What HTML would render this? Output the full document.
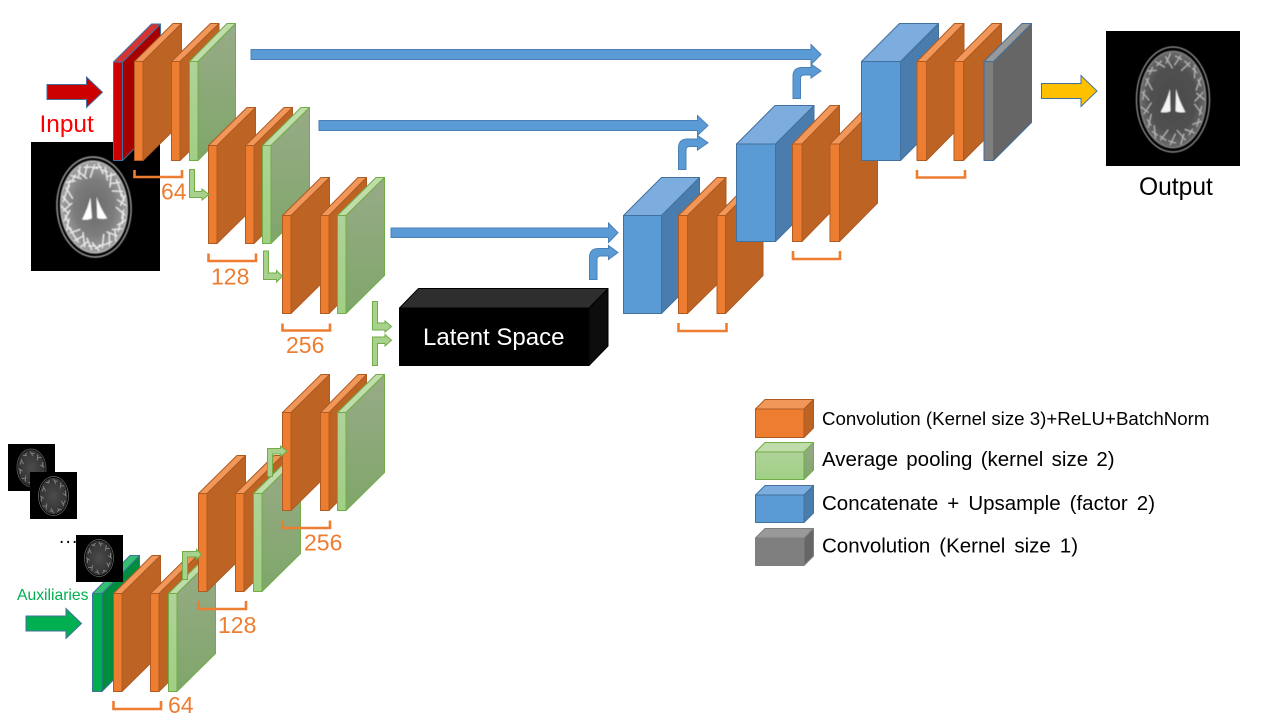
<!DOCTYPE html>
<html lang="en">
<head>
<meta charset="utf-8">
<title>U-Net architecture diagram</title>
<style>
html,body{margin:0;padding:0;background:#fff;width:1280px;height:720px;overflow:hidden}
svg{display:block}
text{font-family:"Liberation Sans",sans-serif}
.num{font-size:23px;fill:#ed7d31}
.leg{font-size:20.5px;fill:#000}
</style>
</head>
<body>
<svg id="diagram" width="1280" height="720" viewBox="0 0 1280 720" xmlns="http://www.w3.org/2000/svg">
<defs>
<linearGradient id="gside" x1="0" y1="0" x2="0" y2="1"><stop offset="0" stop-color="#98ab87"/><stop offset="1" stop-color="#7fa66a"/></linearGradient>
<linearGradient id="gfront" x1="0" y1="0" x2="0" y2="1"><stop offset="0" stop-color="#afd298"/><stop offset="1" stop-color="#a0d084"/></linearGradient>
<radialGradient id="inFill"><stop offset="0" stop-color="#6a6a6a"/><stop offset="0.6" stop-color="#7c7c7c"/><stop offset="1" stop-color="#a2a2a2"/></radialGradient>
<radialGradient id="outFill"><stop offset="0" stop-color="#4c4c4c"/><stop offset="0.7" stop-color="#505050"/><stop offset="1" stop-color="#6a6a6a"/></radialGradient>
<radialGradient id="smFill"><stop offset="0" stop-color="#4c4c4c"/><stop offset="1" stop-color="#333333"/></radialGradient>
<filter id="soft" x="-10%" y="-10%" width="120%" height="120%"><feGaussianBlur stdDeviation="0.5"/></filter>
<filter id="softer" x="-10%" y="-10%" width="120%" height="120%"><feGaussianBlur stdDeviation="0.35"/></filter>
</defs>
<rect x="0" y="0" width="1280" height="720" fill="#ffffff"/>
<g id="shapes"></g>

<text x="39.5" y="132" font-size="24.4" fill="#ff0000">Input</text>
<text x="1139" y="195" font-size="24.6" fill="#000">Output</text>
<text x="17" y="600" font-size="15.7" fill="#00b050">Auxiliaries</text>
<text x="59" y="543" font-size="19" letter-spacing="1.2" fill="#000">...</text>
<text x="423" y="345" font-size="24" fill="#ffffff">Latent Space</text>

<text class="num" x="161" y="199.5">64</text>
<text class="num" x="211" y="284.5">128</text>
<text class="num" x="286" y="353">256</text>
<text class="num" x="304" y="550.5">256</text>
<text class="num" x="218" y="633">128</text>
<text class="num" x="168" y="713">64</text>

<text class="leg" style="font-size:18.7px" x="822" y="425">Convolution (Kernel size 3)+ReLU+BatchNorm</text>
<text class="leg" x="822" y="466" word-spacing="2.6">Average pooling (kernel size 2)</text>
<text class="leg" x="822" y="510" word-spacing="3.35">Concatenate + Upsample (factor 2)</text>
<text class="leg" x="822" y="552.5" word-spacing="3.3">Convolution (Kernel size 1)</text>
</svg>
<script>
var NS = 'http://www.w3.org/2000/svg';
var root = document.getElementById('shapes');

var ORANGE = {f:'#ed7d31', s:'#bd6324', t:'#f1975a', k:'#ae5a21'};
var GREEN  = {f:'url(#gfront)', s:'url(#gside)', t:'#c0dcab', k:'#70ad47'};
var BLUE   = {f:'#5b9bd5', s:'#4a7dae', t:'#7cadde', k:'#41719c'};
var RED    = {f:'#cc0000', s:'#a60000', t:'#d63333', k:'#41719c'};
var DGREEN = {f:'#00b050', s:'#008d40', t:'#33c073', k:'#41719c'};
var GRAY   = {f:'#7f7f7f', s:'#666666', t:'#999999', k:'#41719c'};
var LGRAY  = {f:'#7f7f7f', s:'#666666', t:'#999999', k:'#7f7f7f'};
var BLACK  = {f:'#000000', s:'#0d0d0d', t:'#2e2e2e', k:'#000000'};
var ARROW_BLUE = '#4a80b5';

function add(parent, tag, attrs) {
  var n = document.createElementNS(NS, tag);
  for (var k in attrs) n.setAttribute(k, attrs[k]);
  parent.appendChild(n);
  return n;
}
function newGroup(name) {
  var g = document.createElementNS(NS, 'g');
  
  
  root.appendChild(g);
  return g;
}
function cube(name, p, x0, x1, y0, y1, right, top) {
  var g = newGroup(name);
  var dx = right - x1, dy = y0 - top, st = {stroke:p.k, 'stroke-width':1, 'stroke-linejoin':'round'};
  function poly(pts, fill) {
    var a = {points:pts, fill:fill};
    for (var k in st) a[k] = st[k];
    add(g, 'polygon', a);
  }
  poly(x1+','+y0+' '+right+','+top+' '+right+','+(y1-dy)+' '+x1+','+y1, p.s);
  poly(x0+','+y0+' '+(x0+dx)+','+top+' '+right+','+top+' '+x1+','+y0, p.t);
  poly(x0+','+y0+' '+x1+','+y0+' '+x1+','+y1+' '+x0+','+y1, p.f);
}
function brain(name, x, y, w, h, cx, cy, rx, ry, tilt, style) {
  var g = newGroup(name);
  add(g, 'rect', {x:x, y:y, width:w, height:h, fill:'#000'});
  var b = add(g, 'g', {transform:'rotate('+tilt+' '+cx+' '+cy+')', filter:'url(#'+(style.small?'softer':'soft')+')'});
  add(b, 'ellipse', {cx:cx, cy:cy, rx:rx, ry:ry, fill:'none', stroke:style.ring, 'stroke-width':style.ringW});
  add(b, 'ellipse', {cx:cx, cy:cy, rx:rx*0.9, ry:ry*0.92, fill:style.fill, stroke:style.ring2, 'stroke-width':style.ringW});
  var n = style.n;
  var inners = [0.66, 0.78, 0.6, 0.72, 0.8];
  var outers = [0.86, 0.8, 0.84, 0.88, 0.83];
  for (var i = 0; i < n; i++) {
    var a = i / n * Math.PI * 2, c = Math.cos(a), s = Math.sin(a);
    var inner = inners[i % 5];
    var outer = outers[i % 5];
    var wob = (i % 2 ? 0.22 : -0.18);
    add(b, 'line', {
      x1:cx + c*rx*outer, y1:cy + s*ry*outer,
      x2:cx + Math.cos(a+wob)*rx*inner, y2:cy + Math.sin(a+wob)*ry*inner,
      stroke:style.sulcus, 'stroke-width':style.sulcusW, 'stroke-linecap':'round'
    });
  }
  if (style.vent) {
    var gap = rx*0.07, out = rx*0.34, tp = cy - ry*0.2, bt = cy + ry*0.24;
    add(b, 'path', {d:'M'+(cx-gap*1.2)+' '+tp+' Q'+(cx-out*0.45)+' '+(cy)+' '+(cx-out)+' '+bt+' Q'+(cx-out*0.5)+' '+(bt+1)+' '+(cx-gap)+' '+(bt-1)+' Z', fill:style.vent});
    add(b, 'path', {d:'M'+(cx+gap*1.2)+' '+tp+' Q'+(cx+out*0.45)+' '+(cy)+' '+(cx+out)+' '+bt+' Q'+(cx+out*0.5)+' '+(bt+1)+' '+(cx+gap)+' '+(bt-1)+' Z', fill:style.vent});
  }
}
function straightArrow(name, x0, sT, sB, hx, tip, hT, hB, fill, stroke) {
  var g = newGroup(name);
  var cy = (hT + hB) / 2;
  add(g, 'polygon', {points:x0+','+sT+' '+hx+','+sT+' '+hx+','+hT+' '+tip+','+cy+' '+hx+','+hB+' '+hx+','+sB+' '+x0+','+sB, fill:fill, stroke:stroke, 'stroke-width':1});
}
function bentUp(name, xL, xR, yB, sT, sB, hx, tip, hT, hB, r, fill, stroke) {
  var g = newGroup(name);
  var cy = (hT + hB) / 2;
  var r2 = r ? r * 0.4 : 0;
  var d = 'M'+xL+' '+yB+' L'+xL+' '+(sT+r)+' Q'+xL+' '+sT+' '+(xL+r)+' '+sT+' L'+hx+' '+sT+' L'+hx+' '+hT+' L'+tip+' '+cy+' L'+hx+' '+hB+' L'+hx+' '+sB+' L'+(xR+r2)+' '+sB+' Q'+xR+' '+sB+' '+xR+' '+(sB+r2)+' L'+xR+' '+yB+' Z';
  add(g, 'path', {d:d, fill:fill, stroke:stroke, 'stroke-width':1});
}
function bentDown(name, xL, xR, yT, sT, sB, hx, tip, hT, hB, fill, stroke) {
  var g = newGroup(name);
  var cy = (hT + hB) / 2;
  add(g, 'polygon', {points:xL+','+yT+' '+xR+','+yT+' '+xR+','+sT+' '+hx+','+sT+' '+hx+','+hT+' '+tip+','+cy+' '+hx+','+hB+' '+hx+','+sB+' '+xL+','+sB, fill:fill, stroke:stroke, 'stroke-width':1});
}
function bracket(name, x0, x1, y0, y1) {
  var g = newGroup(name);
  add(g, 'path', {d:'M'+x0+' '+y0+' L'+x0+' '+y1+' L'+x1+' '+y1+' L'+x1+' '+y0, fill:'none', stroke:'#ed7d31', 'stroke-width':2.6});
}

var inputStyle  = {ring:'#a8a8a8', ring2:'#b8b8b8', ringW:1.4, fill:'url(#inFill)', n:55, sulcus:'#eeeeee', sulcusW:1.3, vent:'#ffffff'};
var outputStyle = {ring:'#9a9a9a', ring2:'#8a8a8a', ringW:1.2, fill:'url(#outFill)', n:38, sulcus:'#b4b4b4', sulcusW:1.2, vent:'#f4f4f4'};
var smallStyle  = {ring:'#6e6e6e', ring2:'#3a3a3a', ringW:0.7, fill:'url(#smFill)', n:20, sulcus:'#8e8e8e', sulcusW:0.8, vent:null, small:true};

/* input image and top encoder */
brain('input-mri-image', 31, 142, 129, 129, 94, 207, 37, 50, -3, inputStyle);
cube('input-channel-block', RED, 113.5, 122.5, 62, 160.5, 160.5, 24);
cube('conv-block-1a', ORANGE, 134.5, 143, 61.5, 160.5, 181.5, 23.5);
cube('conv-block-1b', ORANGE, 171.5, 180, 61.5, 160.5, 219, 23.5);
cube('pool-block-1', GREEN, 189.5, 198, 61.5, 160.5, 235.5, 23.5);
cube('conv-block-2a', ORANGE, 208.5, 217, 145.5, 243.5, 255.5, 107.5);
cube('conv-block-2b', ORANGE, 245.5, 254, 145.5, 243.5, 292.5, 107.5);
cube('pool-block-2', GREEN, 262.5, 271, 145.5, 243.5, 309.5, 107.5);
cube('conv-block-3a', ORANGE, 282.5, 291, 215.5, 313.5, 329.5, 177.5);
cube('conv-block-3b', ORANGE, 320.5, 329, 215.5, 313.5, 366.5, 177.5);
cube('pool-block-3', GREEN, 337.5, 346, 215.5, 313.5, 384.5, 177.5);

/* auxiliary encoder */
brain('auxiliary-mri-image-1', 8, 444, 47, 47, 31.5, 468, 14.5, 19, -4, smallStyle);
brain('auxiliary-mri-image-2', 30, 472, 47, 47, 53.5, 496, 15, 19.5, 0, smallStyle);
cube('auxiliary-channel-block', DGREEN, 92.5, 102, 593.5, 691.5, 139.5, 555.5);
brain('auxiliary-mri-image-3', 76, 535, 47, 47, 99, 558, 14.5, 18.5, 0, smallStyle);
cube('aux-conv-block-1a', ORANGE, 113.5, 122, 593.5, 691.5, 160.5, 555.5);
cube('aux-conv-block-1b', ORANGE, 150.5, 159, 593.5, 691.5, 197.5, 555.5);
cube('aux-pool-block-1', GREEN, 168.5, 177, 593.5, 691.5, 215.5, 555.5);
cube('aux-conv-block-2a', ORANGE, 198.5, 207, 493.5, 591.5, 245.5, 455.5);
cube('aux-conv-block-2b', ORANGE, 235.5, 244, 493.5, 591.5, 282.5, 455.5);
cube('aux-pool-block-2', GREEN, 253.5, 262, 493.5, 591.5, 300.5, 455.5);
cube('aux-conv-block-3a', ORANGE, 282.5, 291, 412.5, 510.5, 329.5, 374.5);
cube('aux-conv-block-3b', ORANGE, 320.5, 329, 412.5, 510.5, 366.5, 374.5);
cube('aux-pool-block-3', GREEN, 337.5, 346, 412.5, 510.5, 384.5, 374.5);

/* latent */
cube('latent-space-block', BLACK, 399.5, 589, 308, 365.5, 608, 288.5);

/* decoder */
cube('upsample-block-1', BLUE, 623.5, 661.5, 215.5, 313.5, 699.5, 177.5);
cube('dec-conv-block-1a', ORANGE, 678.5, 687.5, 215.5, 313.5, 726, 177.5);
cube('dec-conv-block-1b', ORANGE, 717, 725.5, 215.5, 313.5, 763, 177.5);
cube('upsample-block-2', BLUE, 736.5, 775.5, 144, 241.5, 814, 105.5);
cube('dec-conv-block-2a', ORANGE, 792.5, 802, 144, 241.5, 839.5, 105.5);
cube('dec-conv-block-2b', ORANGE, 830, 839.5, 144, 241.5, 877.5, 105.5);
cube('upsample-block-3', BLUE, 861.5, 900.5, 61.5, 160.5, 938.5, 23.5);
cube('dec-conv-block-3a', ORANGE, 917, 926.5, 61.5, 160.5, 964, 23.5);
cube('dec-conv-block-3b', ORANGE, 954, 963.5, 61.5, 160.5, 1001.5, 23.5);
cube('final-conv-block', GRAY, 984, 993.5, 61.5, 160.5, 1031.5, 23.5);

/* output image */
brain('output-mri-image', 1106, 31, 134, 135, 1173, 99.5, 36.5, 52.5, 0, outputStyle);

/* skip connections */
straightArrow('skip-arrow-top', 251, 49.5, 59.5, 811, 821, 44.5, 64.5, '#5b9bd5', ARROW_BLUE);
straightArrow('skip-arrow-middle', 319, 120.5, 130.5, 697.5, 708, 115.5, 135.5, '#5b9bd5', ARROW_BLUE);
straightArrow('skip-arrow-bottom', 391, 228, 237.5, 608.5, 618, 223, 242.5, '#5b9bd5', ARROW_BLUE);

/* upsample arrows */
bentUp('upsample-arrow-1', 589.5, 597, 279.5, 248.5, 256, 608.5, 618, 245.5, 259.5, 9, '#5b9bd5', ARROW_BLUE);
bentUp('upsample-arrow-2', 678.5, 686, 169.5, 139, 146.5, 697.5, 708, 135.5, 150, 9, '#5b9bd5', ARROW_BLUE);
bentUp('upsample-arrow-3', 793, 800.5, 98.5, 67.5, 75, 811, 821, 64, 78, 9, '#5b9bd5', ARROW_BLUE);

/* pooling flow arrows */
bentDown('pool-arrow-1', 189.5, 194.5, 169.5, 191.5, 197.5, 202, 209, 189, 200, '#a9d18e', '#70ad47');
bentDown('pool-arrow-2', 263.5, 268.5, 251, 273, 279.5, 276.5, 282.5, 270.5, 282, '#a9d18e', '#70ad47');
bentDown('pool-arrow-3', 372.5, 377.5, 301.5, 323, 330, 385, 391.5, 321, 332, '#a9d18e', '#70ad47');
bentUp('pool-arrow-4', 372.5, 377.5, 365.5, 337, 343.5, 385, 391.5, 334.5, 346, 0, '#a9d18e', '#70ad47');
bentUp('aux-pool-arrow-1', 182.5, 187.5, 579.5, 551.5, 557, 196.5, 201.5, 549.5, 559.5, 0, '#a9d18e', '#70ad47');
bentUp('aux-pool-arrow-2', 267.5, 272.5, 476.5, 448.5, 454, 280.5, 287, 446, 456.5, 0, '#a9d18e', '#70ad47');

/* io arrows */
straightArrow('input-arrow', 47, 84.5, 99.5, 86.5, 102.5, 77, 107.5, '#cc0000', '#41719c');
straightArrow('auxiliary-arrow', 26, 616, 631, 66, 81.5, 608.5, 638.5, '#00b050', '#41719c');
straightArrow('output-arrow', 1041.5, 83.5, 98.5, 1081, 1097, 75.5, 106.5, '#ffc000', '#41719c');

/* brackets */
bracket('bracket-top-1', 134.5, 182, 170, 177);
bracket('bracket-top-2', 208.5, 256, 253.5, 261);
bracket('bracket-top-3', 282.5, 330, 323.5, 330.5);
bracket('bracket-bottom-1', 113.5, 161, 701, 709);
bracket('bracket-bottom-2', 198.5, 246, 601, 609);
bracket('bracket-bottom-3', 282.5, 330, 520.5, 528);
bracket('bracket-decoder-1', 678.5, 726.5, 323, 331);
bracket('bracket-decoder-2', 793, 840, 251, 259);
bracket('bracket-decoder-3', 917, 965, 170, 177.5);

/* legend */
cube('legend-swatch-convolution-3', ORANGE, 755.5, 804, 409, 437.5, 813.5, 399.5);
cube('legend-swatch-average-pooling', GREEN, 755.5, 804, 452, 479.5, 813.5, 442.5);
cube('legend-swatch-upsample', BLUE, 755.5, 804, 495, 522.5, 813.5, 485.5);
cube('legend-swatch-convolution-1', LGRAY, 755.5, 804, 538, 565.5, 813.5, 528.5);
</script>
</body>
</html>
